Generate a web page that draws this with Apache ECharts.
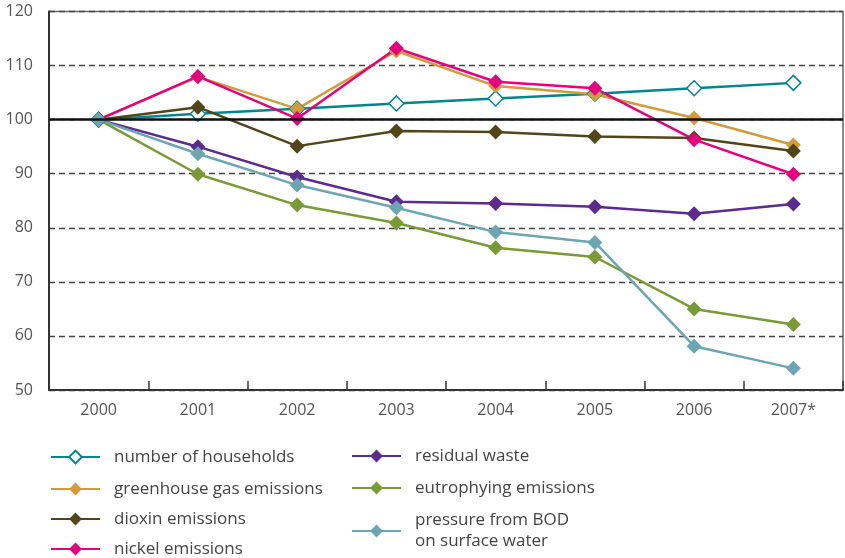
<!DOCTYPE html>
<html>
<head>
<meta charset="utf-8">
<script src="https://cdn.jsdelivr.net/npm/echarts@6/dist/echarts.min.js"></script>
<style>html,body{margin:0;padding:0;background:#fff;}#c{width:845px;height:558px;}</style>
</head>
<body>
<div id="c"></div>
<script>
var years = ['2000','2001','2002','2003','2004','2005','2006','2007*'];
var yTicks = [50,60,70,80,90,100,110,120];
var households = [100, 101.1, 102, 103, 103.9, 104.8, 105.8, 106.8];
var greenhouse = [100, 107.9, 102, 112.7, 106.2, 104.7, 100.3, 95.3];
var dioxin = [100, 102.3, 95.1, 97.9, 97.7, 96.9, 96.6, 94.2];
var nickel = [100, 108, 100.2, 113.2, 107, 105.8, 96.3, 89.9];
var residual = [100, 95, 89.4, 84.8, 84.5, 83.9, 82.6, 84.4];
var eutrophying = [100, 89.9, 84.2, 80.9, 76.3, 74.6, 65.0, 62.1];
var bod = [100, 93.7, 87.9, 83.7, 79.2, 77.3, 58.1, 54.0];
var names = ['number of households','greenhouse gas emissions','dioxin emissions','nickel emissions','residual waste','eutrophying emissions','pressure from BOD\non surface water'];

var FONT = 'Open Sans';
var chart = echarts.init(document.getElementById('c'), null, {renderer:'canvas'});
function ser(name, data, color, hollow) {
  return {
    name: name, type: 'line', data: data,
    symbol: 'diamond', symbolSize: 15, showSymbol: true,
    lineStyle: {color: color, width: 2.5},
    itemStyle: hollow ? {color: '#fff', borderColor: color, borderWidth: 1.5} : {color: color},
    emphasis: {disabled: true}, animation: false
  };
}
var series = [
  ser(names[0], households, '#00868d', true),
  ser(names[1], greenhouse, '#d49b3b'),
  ser(names[2], dioxin, '#524519'),
  ser(names[3], nickel, '#e6007e'),
  ser(names[4], residual, '#5b2b8e'),
  ser(names[5], eutrophying, '#799b36'),
  ser(names[6], bod, '#6ca6b1')
];
series[0].markLine = {
  silent: true, symbol: 'none', label: {show: false},
  lineStyle: {color: '#111', width: 2.5, type: 'solid'},
  data: [{yAxis: 100}], animation: false
};
var legTextStyle = {fontFamily: FONT, fontSize: 17, color: '#444', lineHeight: 21, padding: [0,0,0,9]};
// legend layout: [left, centerY] per entry
var legPos = [[50,457],[50,489],[50,519],[50,549],[351,456],[351,488],[351,531]];
var legends = names.map(function(n, i){
  return {orient: 'vertical', left: legPos[i][0], top: legPos[i][1] - (i === 6 ? 21 : 10.5),
    itemWidth: 49, itemHeight: 16, textStyle: legTextStyle, data: [n], selectedMode: false, padding: 0};
});
chart.setOption({
  animation: false,
  backgroundColor: '#fff',
  grid: {left: 49, right: 2, top: 11.5, bottom: 168, show: true, borderColor: '#666', borderWidth: 1.5, containLabel: false},
  xAxis: {
    type: 'category', data: years, boundaryGap: true,
    axisLine: {lineStyle: {color: '#333', width: 2}},
    axisTick: {show: true, inside: true, length: 9, interval: 0, lineStyle: {color: '#333', width: 1.5}},
    axisLabel: {fontFamily: FONT, fontSize: 16, color: '#555', margin: 12},
    splitLine: {show: false}
  },
  yAxis: {
    type: 'value', min: yTicks[0], max: yTicks[yTicks.length-1], interval: 10,
    axisLine: {show: true, lineStyle: {color: '#333', width: 2}},
    axisTick: {show: false},
    axisLabel: {fontFamily: FONT, fontSize: 16, color: '#555', margin: 16},
    splitLine: {show: true, lineStyle: {color: '#444', width: 1.3, type: [6, 4]}}
  },
  legend: legends,
  series: series
});
</script>
</body>
</html>
